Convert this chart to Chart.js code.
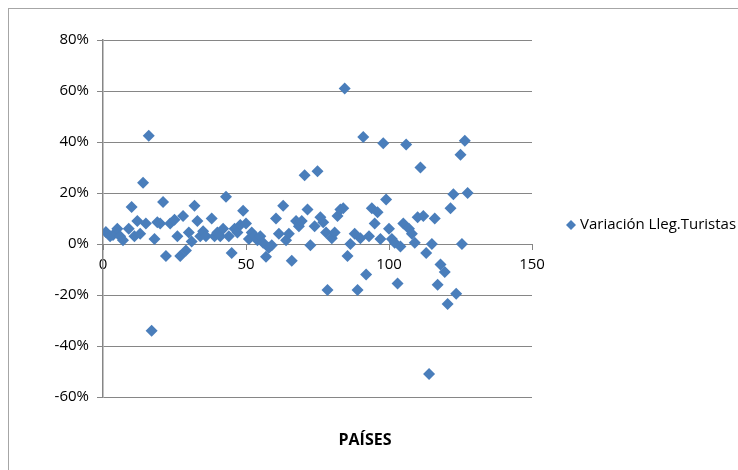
<!DOCTYPE html>
<html>
<head>
<meta charset="utf-8">
<script src="https://cdn.jsdelivr.net/npm/chart.js"></script>
<style>
  body { margin: 0; background: #fff; }
  canvas { display: block; }
</style>
</head>
<body>
<canvas id="grafico" width="738" height="470"></canvas>
<script>
// Datos (x = país, y = variación en %)
const paises = [1, 2.5, 3.5, 5, 6, 7, 9, 10, 11, 12, 13, 14, 15, 16, 17, 18, 19, 20, 21, 22,
    23.5, 25, 26, 27, 28, 29, 30, 31, 32, 33, 34, 35, 36, 38, 39, 40, 41, 42, 43, 44,
    45, 46, 47, 48, 49, 50, 51, 52, 53, 54, 55, 56, 57, 58, 59, 60.5, 61.5, 63, 64, 65,
    66, 67.5, 68.5, 69.5, 70.5, 71.5, 72.5, 74, 75, 76, 77, 78, 78.5, 80, 81, 82, 83, 84, 84.5, 85.5,
    86.5, 88, 89, 90, 91, 92, 93, 94, 95, 96, 97, 98, 99, 100, 101, 102, 103, 104, 105, 106,
    107, 108, 109, 110, 111, 112, 113, 114, 115, 116, 117, 118, 119.5, 120.5, 121.5, 122.5, 123.5, 125, 125.5, 126.5,
    127.5];
const variacion = [4.7, 3, 3.5, 6, 3, 1.5, 6, 14.5, 3, 9, 4, 24, 8, 42.5, -34, 2, 8.5, 8, 16.5, -4.7,
    8, 9.5, 3, -4.7, 11, -2.5, 4.5, 1, 15, 9, 3, 5, 3, 10, 3, 4.5, 3, 6, 18.5, 3,
    -3.5, 6, 4.5, 7.5, 13, 8, 2, 4.5, 3, 1.5, 3, 0.5, -5, -1.5, -0.5, 10, 4, 15, 1.5, 4,
    -6.6, 9, 7, 9, 27, 13.5, -0.5, 7, 28.5, 10.5, 8.5, 4.5, -18, 2.3, 4.5, 11, 13.5, 14, 61, -4.7,
    0, 4, -18, 2.3, 42, -12, 3, 14, 8, 12.5, 2, 39.5, 17.5, 6, 2, 0.5, -15.5, -1, 8, 39,
    6, 4, 0.5, 10.5, 30, 11, -3.5, -51, 0, 10, -16, -8, -11, -23.5, 14, 19.5, -19.5, 35, 0, 40.5,
    20];
const ticksX = [0, 50, 100, 150];
const ticksY = [-60, -40, -20, 0, 20, 40, 60, 80];
const tituloX = 'PAÍSES';

const azul = '#4A7EBB';
const gris = '#868686';
const fuente = "'Open Sans', 'Liberation Sans', sans-serif";

Chart.defaults.font.family = fuente;
Chart.defaults.font.size = 15;
Chart.defaults.color = '#000';

// Marco exterior del gráfico
const marco = {
    id: 'marco',
    beforeDraw(chart) {
        const ctx = chart.ctx;
        ctx.save();
        ctx.fillStyle = '#fff';
        ctx.fillRect(0, 0, chart.width, chart.height);
        ctx.strokeStyle = '#A6A6A6';
        ctx.lineWidth = 1;
        ctx.strokeRect(8.5, 8.5, 800, 800);
        ctx.restore();
    }
};

// Leyenda a la derecha y título del eje X
const textos = {
    id: 'textos',
    afterDraw(chart) {
        const ctx = chart.ctx;
        const ds = chart.data.datasets[0];
        const y = 225;
        ctx.save();
        ctx.fillStyle = ds.backgroundColor;
        ctx.beginPath();
        ctx.moveTo(571, y - 5);
        ctx.lineTo(576, y);
        ctx.lineTo(571, y + 5);
        ctx.lineTo(566, y);
        ctx.closePath();
        ctx.fill();
        ctx.fillStyle = '#000';
        ctx.font = '15px ' + fuente;
        ctx.textBaseline = 'middle';
        ctx.fillText(ds.label, 580, y);

        ctx.font = 'bold 16px ' + fuente;
        ctx.textAlign = 'center';
        ctx.fillText(tituloX, 365, 440);
        ctx.restore();
    }
};

new Chart(document.getElementById('grafico'), {
    type: 'scatter',
    data: {
        datasets: [{
            label: 'Variación Lleg.Turistas',
            data: paises.map((x, i) => ({ x: x, y: variacion[i] })),
            backgroundColor: azul,
            borderColor: azul,
            borderWidth: 0,
            pointStyle: 'rectRot',
            pointRadius: 6,
            pointHoverRadius: 6
        }]
    },
    options: {
        responsive: false,
        animation: false,
        layout: { padding: { left: 0, top: 40, right: 206, bottom: 73 } },
        plugins: {
            legend: { display: false },
            tooltip: { enabled: false }
        },
        scales: {
            x: {
                type: 'linear',
                position: { y: 0 },
                min: 0,
                max: 150,
                afterBuildTicks: s => { s.ticks = ticksX.map(v => ({ value: v })); },
                afterFit: s => { s.paddingLeft = 0; s.paddingRight = 0; },
                ticks: { padding: 7 },
                grid: { drawOnChartArea: false, color: gris, tickLength: 5 },
                border: { color: gris, width: 1 }
            },
            y: {
                min: -60,
                max: 80,
                afterBuildTicks: s => { s.ticks = ticksY.map(v => ({ value: v })); },
                afterFit: s => { s.width = 103; s.paddingTop = 0; s.paddingBottom = 0; },
                ticks: { padding: 8, callback: v => v + '%' },
                grid: { color: gris, tickLength: 6 },
                border: { color: gris, width: 1.5 }
            }
        }
    },
    plugins: [marco, textos]
});
</script>
</body>
</html>
